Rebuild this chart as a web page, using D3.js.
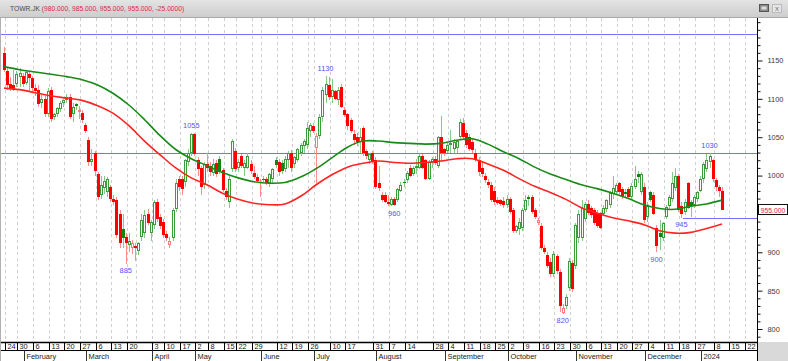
<!DOCTYPE html>
<html><head><meta charset="utf-8">
<script src="https://cdn.jsdelivr.net/npm/d3@7"></script>
<style>
html,body{margin:0;padding:0;background:#fff;overflow:hidden}
svg{display:block}
text{font-family:"Liberation Sans",Arial,sans-serif}
</style>
</head><body>
<svg id="c" width="788" height="361"></svg>
<script>
const ticker = "TOWR.JK";
const open = [
1160,1136,1120,1118,1120,1128,1130,1121,1133,1127,
1114,1112,1095,1100,1080,1112,1076,1080,1087,1094,
1098,1102,1080,1093,1084,1082,1066,1046,1018,1029,
1002,975,984,978,985,970,968,950,930,920,
910,905,908,902,920,925,950,925,935,966,
946,940,924,909,918,956,995,996,992,1018,
1030,1054,1020,1010,988,1015,1012,1004,1016,1022,
1007,980,965,1008,1032,1010,1025,1010,1010,1015,
1004,998,992,996,995,990,995,1020,1018,1016,
1008,1020,1030,1015,1020,1030,1038,1040,1058,1064,
1036,1052,1076,1105,1118,1102,1110,1098,1115,1086,
1080,1072,1054,1050,1044,1062,1032,1020,1030,1020,
990,975,975,966,962,970,968,980,992,994,
1010,1002,1010,1010,1025,1020,996,1016,1022,1012,
1050,1034,1032,1040,1034,1036,1050,1068,1056,1050,
1044,1030,1020,1010,1000,992,988,980,968,968,
967,962,970,955,928,930,932,955,972,972,
955,938,934,906,897,887,872,895,874,821,
830,853,886,882,918,918,944,963,958,955,
951,951,950,956,962,976,978,990,982,979,
982,972,985,1002,978,985,946,978,975,932,
925,918,946,960,970,984,1000,960,952,990,
966,962,970,980,995,1008,1018,1020,994,985,
980];
const high = [
1168,1140,1128,1138,1136,1140,1134,1138,1136,1130,
1120,1118,1105,1104,1114,1116,1082,1090,1097,1100,
1106,1106,1094,1095,1091,1085,1068,1050,1034,1032,
1005,1000,1000,998,988,975,972,955,950,925,
925,916,912,914,950,955,956,942,968,970,
950,944,928,920,958,995,1000,1000,1022,1035,
1055,1055,1024,1012,1018,1030,1018,1022,1020,1025,
1010,984,1000,1048,1036,1022,1028,1020,1030,1020,
1012,1002,996,1000,998,1004,1010,1024,1022,1020,
1025,1032,1033,1026,1036,1042,1048,1070,1068,1068,
1055,1080,1115,1130,1128,1126,1112,1115,1120,1090,
1082,1075,1060,1055,1062,1064,1034,1030,1032,1024,
1013,978,978,975,972,972,984,992,995,1006,
1014,1012,1022,1028,1028,1022,1020,1024,1025,1052,
1078,1036,1044,1060,1048,1046,1074,1075,1060,1054,
1048,1034,1024,1018,1004,995,992,985,972,970,
972,975,972,958,936,945,958,975,975,975,
958,945,938,910,900,892,902,898,878,832,
845,892,890,938,955,968,966,968,960,958,
955,953,962,970,980,1000,990,992,985,982,
985,990,1012,1006,1005,990,965,980,978,935,
942,940,962,975,1005,1010,1002,966,970,992,
968,975,980,1000,1018,1028,1030,1022,997,988,
985];
const low = [
1135,1112,1110,1110,1116,1115,1115,1118,1110,1108,
1104,1090,1088,1076,1076,1070,1072,1076,1083,1090,
1094,1074,1070,1086,1074,1068,1055,1012,1012,1000,
968,970,976,972,965,962,918,905,905,885,
900,898,888,896,915,918,935,915,930,940,
930,918,915,905,915,952,980,975,985,1012,
1025,1025,1000,975,982,1005,1000,1000,998,1002,
978,968,958,1005,1005,1005,1010,1000,1008,1002,
996,990,972,992,988,985,990,1010,1000,1002,
1005,1010,1005,1010,1018,1025,1030,1035,1050,1055,
990,1048,1070,1095,1098,1095,1098,1092,1088,1076,
1060,1055,1040,1038,1030,1025,1022,1015,1015,982,
980,966,964,960,960,960,965,978,985,990,
998,1000,1002,1008,1008,994,994,1010,1014,1010,
1018,1026,1030,1030,1030,1030,1048,1046,1036,1032,
1030,1018,1000,998,990,984,965,962,962,960,
958,958,950,925,925,922,928,952,960,950,
944,935,903,898,880,868,868,872,822,820,
826,850,848,878,912,915,940,948,945,935,
932,930,948,952,958,970,975,975,970,972,
970,968,982,990,975,938,940,966,948,900,
903,915,944,955,965,980,952,945,948,956,
946,958,965,978,990,1005,1010,992,980,972,
955];
const close = [
1138,1118,1114,1112,1132,1134,1120,1135,1127,1114,
1110,1093,1100,1080,1110,1074,1080,1088,1094,1098,
1103,1077,1090,1091,1086,1072,1058,1018,1022,1006,
972,988,993,995,970,966,922,912,918,912,
915,912,906,912,942,948,938,940,965,943,
934,922,918,915,955,990,985,982,1020,1030,
1054,1028,1008,985,1015,1010,1005,1015,1002,1005,
981,972,995,1045,1008,1018,1012,1016,1025,1006,
998,993,990,994,990,1002,1008,1014,1005,1006,
1022,1030,1010,1024,1034,1040,1045,1062,1066,1058,
1052,1076,1112,1120,1102,1112,1100,1112,1090,1079,
1065,1058,1046,1044,1050,1030,1025,1028,1018,985,
984,968,966,963,970,962,982,988,990,1004,
1000,1010,1012,1025,1010,996,1018,1022,1016,1050,
1030,1029,1040,1042,1044,1045,1070,1050,1040,1035,
1033,1020,1005,1002,994,988,968,966,964,963,
962,970,952,928,934,940,955,968,970,952,
946,942,906,900,882,872,898,876,830,828,
842,888,852,935,950,958,963,951,948,938,
934,932,958,968,977,984,988,979,973,976,
972,986,996,998,1002,942,960,968,950,908,
920,938,959,972,990,1000,955,950,966,958,
960,972,978,996,1015,1020,1025,995,985,980,
955];

// moving averages (day index -> value)
const maIdx   = [0,5,10,15,20,25,30,35,40,45,50,55,60,65,70,75,80,85,90,95,100,105,110,115,120,125,130,135,140,145,150,155,160,165,170,175,180,185,190,195,200,205,210,215,220,225,230];
const maGreen = [1142,1138,1135,1132,1129,1125,1118,1107,1092,1073,1052,1034,1022,1013,1004,997,992,990,991,998,1009,1023,1037,1045,1045,1043,1042,1041,1042,1046,1048,1041,1031,1022,1011,1002,995,988,983,977,970,962,957,956,960,963,968];
const maRed   = [1114,1112,1108,1104,1101,1098,1091,1081,1065,1045,1027,1010,997,988,977,969,964,962,963,973,988,1001,1011,1016,1019,1017,1016,1017,1019,1022,1022,1015,1007,996,986,978,969,958,951,945,941,936,928,925,926,931,937];

// horizontal levels
const levelVal   = [1185,1030,945];
const levelStart = [-2,-2,217.5];

// swing labels
const swingIdx = [60,39,103,125,179,209,217,226];
const swingVal = [1055,885,1130,960,820,900,945,1030];
const swingPos = ["up","down","up","down","down","down","down","up"];

// week ticks on the trading-day axis
const tickIdx = [0,4,9,14,19,24,29,34,39,47,51,56,61,65,70,74,79,87,92,97,104,109,118,123,128,137,142,147,152,157,161,166,171,176,181,186,191,196,201,206,211,216,221,227,232,237];
const tickLabels = ["24","30","6","13","20","27","6","13","20","3","10","17","2","8","15","22","29","12","19","26","10","17","31","7","14","28","4","11","18","25","2","9","16","23","30","6","13","20","27","4","11","18","27","8","15","22"];
const gridExtra = [42,82,99,113,132];
const monthIdx = [6,26,47,61,82,99,119,141,161,183,205,223];
const monthLabels = ["February","March","April","May","June","July","August","September","October","November","December","2024"];

const majorTicks = [800,850,900,950,1000,1050,1100,1150];

// ---------- drawing ----------
const svg = d3.select("#c");
const W = 788, H = 361, plotTop = 17, plotBottom = 342, axisX = 757;
const FS = 7.4;

const x = d3.scaleLinear().domain([0,230]).range([4,722]);
const y = d3.scaleLinear().domain([800,1150]).range([329,60.5]);

svg.append("rect").attr("width",W).attr("height",H).attr("fill","#fff");

// title bar
const defs = svg.append("defs");
const g1 = defs.append("linearGradient").attr("id","tb").attr("x1",0).attr("y1",0).attr("x2",0).attr("y2",1);
g1.append("stop").attr("offset","0%").attr("stop-color","#e4e4e4");
g1.append("stop").attr("offset","100%").attr("stop-color","#cdcdcd");
defs.append("clipPath").attr("id","pc").append("rect").attr("x",0).attr("y",plotTop+1).attr("width",axisX).attr("height",plotBottom-plotTop-1);

svg.append("rect").attr("x",0).attr("y",0).attr("width",W).attr("height",plotTop).attr("fill","url(#tb)");
svg.append("line").attr("x1",0).attr("x2",W).attr("y1",plotTop+0.5).attr("y2",plotTop+0.5).attr("stroke","#a8a8a8");

const n = close.length;
const last = n-1;
const chg = close[last]-close[last-1];
const title = svg.append("text").attr("x",10).attr("y",11).attr("font-size",6.7);
title.append("tspan").attr("fill","#4a4a4a").text(ticker+" ");
title.append("tspan").attr("fill","#dc1e4a")
  .text(`(${open[last].toFixed(3)}, ${high[last].toFixed(3)}, ${low[last].toFixed(3)}, ${close[last].toFixed(3)}, ${chg.toFixed(4)})`);

// top-right icons
svg.append("rect").attr("x",759.5).attr("y",4.5).attr("width",9).attr("height",7).attr("fill","#8a8a8a").attr("stroke","#555");
svg.append("rect").attr("x",761.5).attr("y",6.5).attr("width",5).attr("height",3).attr("fill","#ddd");
svg.append("rect").attr("x",772.5).attr("y",4.5).attr("width",9).attr("height",8).attr("fill","#e6e6e6").attr("stroke","#bbb");
svg.append("text").attr("x",777).attr("y",11).attr("font-size",8).attr("text-anchor","middle").attr("fill","#777").text("x");

// grid
const gridAll = tickIdx.concat(gridExtra);
svg.append("g").selectAll("line").data(gridAll).join("line")
  .attr("x1",d=>Math.round(x(d)+1)+0.5).attr("x2",d=>Math.round(x(d)+1)+0.5)
  .attr("y1",plotTop+1).attr("y2",plotBottom)
  .attr("stroke","#cfcfcf").attr("stroke-dasharray","3,3");

const plot = svg.append("g").attr("clip-path","url(#pc)");

// horizontal levels
plot.append("g").selectAll("line").data(levelVal).join("line")
  .attr("x1",(d,i)=>x(levelStart[i])).attr("x2",axisX)
  .attr("y1",d=>Math.round(y(d))+0.5).attr("y2",d=>Math.round(y(d))+0.5)
  .attr("stroke","#7373ff").attr("stroke-width",1);

// candles
const cg = plot.append("g").attr("shape-rendering","crispEdges");
for (let i=0;i<n;i++){
  const prev = i>0?close[i-1]:open[i];
  const upDay = close[i] >= prev;
  const hollow = close[i] >= open[i];
  const cx = Math.round(x(i));
  cg.append("line").attr("x1",cx+0.5).attr("x2",cx+0.5)
    .attr("y1",y(high[i])).attr("y2",y(low[i]))
    .attr("stroke", upDay ? "#86c986" : "#ff8c8c").attr("stroke-width",1);
  const top = Math.round(y(Math.max(open[i],close[i])));
  const bot = Math.round(y(Math.min(open[i],close[i])));
  const h = Math.max(1, bot-top);
  if (hollow){
    cg.append("rect").attr("x",cx-1+0.5).attr("y",top+0.5).attr("width",2).attr("height",Math.max(1,h-1))
      .attr("fill","#fff").attr("stroke", upDay ? "#3a9c3a" : "#ff7a7a").attr("stroke-width",1);
  } else {
    cg.append("rect").attr("x",cx-1).attr("y",top).attr("width",3).attr("height",h)
      .attr("fill", upDay ? "#0f850f" : "#ff0000");
  }
}

// moving averages
const line = d3.line().x((d,i)=>x(maIdx[i])).y(d=>y(d)).curve(d3.curveCatmullRom);
plot.append("path").datum(maRed).attr("d",line).attr("fill","none").attr("stroke","#ff2323").attr("stroke-width",1.6);
plot.append("path").datum(maGreen).attr("d",line).attr("fill","none").attr("stroke","#178a17").attr("stroke-width",1.6);

// swing labels
svg.append("g").selectAll("text").data(swingIdx).join("text")
  .attr("x",d=>x(d)).attr("text-anchor","middle")
  .attr("y",(d,i)=> swingPos[i]==="up" ? y(high[d])-5 : y(low[d])+9.5)
  .attr("font-size",FS).attr("fill","#5353ff")
  .text((d,i)=>swingVal[i]);

// right axis
svg.append("rect").attr("x",axisX).attr("y",plotTop+1).attr("width",W-axisX).attr("height",plotBottom-plotTop-1).attr("fill","#fff");
const py = y(close[last]);
const ax = svg.append("g").attr("transform",`translate(${axisX+0.5},0)`);
ax.call(d3.axisRight(y).tickValues(majorTicks).tickSize(5).tickPadding(5).tickFormat(d3.format("d")));
ax.append("g").call(d3.axisRight(y).tickValues(d3.range(790,1201,10).filter(v=>majorTicks.indexOf(v)<0)).tickSize(3).tickFormat(""));
ax.selectAll(".domain").remove();
ax.selectAll("line").attr("stroke","#111");
ax.selectAll("text").attr("font-size",FS).attr("fill","#3a3a3a").attr("font-family","'Liberation Sans',Arial,sans-serif");
// the tick label hidden behind the last-price box
ax.selectAll(".tick").filter(d=>Math.abs(y(d)-py)<9).select("text").remove();
svg.append("line").attr("x1",axisX+0.5).attr("x2",axisX+0.5).attr("y1",plotTop+1).attr("y2",plotBottom).attr("stroke","#000");

// last price box
svg.append("rect").attr("x",758.5).attr("y",Math.round(py)-5.5).attr("width",29).attr("height",10).attr("fill","#fff").attr("stroke","#111");
svg.append("text").attr("x",773).attr("y",Math.round(py)+2.6).attr("text-anchor","middle").attr("font-size",6.8).attr("fill","#e8203c").text(close[last].toFixed(3));

// bottom date rows
svg.append("rect").attr("x",axisX+1).attr("y",plotBottom).attr("width",W-axisX).attr("height",H-plotBottom).attr("fill","#d9d9d9");
svg.append("line").attr("x1",0).attr("x2",axisX+1).attr("y1",plotBottom+0.5).attr("y2",plotBottom+0.5).attr("stroke","#000").attr("stroke-width",1.4);
svg.append("line").attr("x1",0).attr("x2",axisX+1).attr("y1",350.5).attr("y2",350.5).attr("stroke","#000").attr("stroke-width",1);
const dt = svg.append("g");
dt.selectAll("line").data(tickIdx).join("line")
  .attr("x1",d=>Math.round(x(d)+1)+0.5).attr("x2",d=>Math.round(x(d)+1)+0.5)
  .attr("y1",plotBottom).attr("y2",350.5).attr("stroke","#000");
dt.selectAll("text").data(tickIdx).join("text")
  .attr("x",d=>Math.round(x(d)+1)+2.5).attr("y",349).attr("font-size",FS).attr("fill","#1a1a1a")
  .text((d,i)=>tickLabels[i]);
const mt = svg.append("g");
mt.selectAll("line").data(monthIdx).join("line")
  .attr("x1",d=>Math.round(x(d)+1)+0.5).attr("x2",d=>Math.round(x(d)+1)+0.5)
  .attr("y1",350.5).attr("y2",H).attr("stroke","#333");
mt.selectAll("text").data(monthIdx).join("text")
  .attr("x",d=>Math.round(x(d)+1)+2.5).attr("y",359).attr("font-size",FS).attr("fill","#1a1a1a")
  .text((d,i)=>monthLabels[i]);
svg.append("line").attr("x1",axisX+0.5).attr("x2",axisX+0.5).attr("y1",plotBottom).attr("y2",H).attr("stroke","#000");
svg.append("line").attr("x1",0.5).attr("x2",0.5).attr("y1",plotTop).attr("y2",H).attr("stroke","#b0b0b0");
</script>
</body></html>
